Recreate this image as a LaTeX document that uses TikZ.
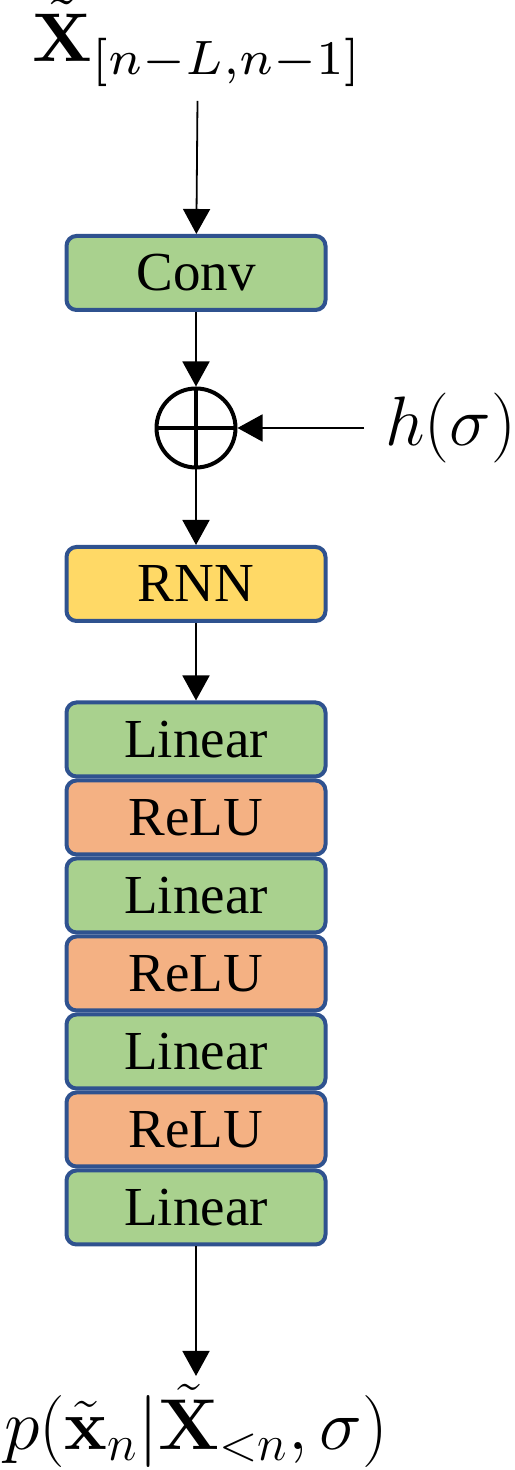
\RequirePackage{fix-cm}
\documentclass[tikz,border=0pt]{standalone}
\usepackage[no-math]{fontspec}
\setmainfont{Liberation Serif}
\usetikzlibrary{positioning,arrows.meta}
\definecolor{boxgreen}{HTML}{A9D18E}
\definecolor{boxorange}{HTML}{F4B183}
\definecolor{boxyellow}{HTML}{FFD966}
\definecolor{boxedge}{HTML}{2F528F}
\tikzset{
  layer/.style={draw=boxedge,line width=2pt,rounded corners=5pt,
    minimum width=129.5pt,minimum height=37pt,inner sep=0pt,
    font=\fontsize{27.5}{30}\selectfont},
  lin/.style={layer,fill=boxgreen},
  act/.style={layer,fill=boxorange},
  rec/.style={layer,fill=boxyellow},
  sumnode/.style={draw,circle,line width=2pt,minimum size=39.5pt,inner sep=0pt,
    path picture={\draw[line width=2pt] (path picture bounding box.north) -- (path picture bounding box.south)
      (path picture bounding box.west) -- (path picture bounding box.east);}},
  io/.style={inner sep=4pt,font=\fontsize{35}{40}\selectfont},
  arr/.style={line width=0.9pt,-{Triangle[length=12.5pt,width=13.5pt]}}
}
\begin{document}
\begin{tikzpicture}[x=0.5pt,y=0.5pt,node distance=0pt]
  \useasboundingbox (0,0) rectangle (514,1470);
  \node[io,anchor=base,font=\normalsize,inner sep=7pt] (xin) at (198,1408) {\scalebox{3.45}{$\tilde{\mathbf{X}}_{[n-L,n-1]}$}};
  \node[lin] (conv) at (196,1197) {Conv};
  \node[sumnode] (add) at (196,1042) {};
  \node[io,anchor=west,inner sep=10.5pt] (hsig) at (364,1042) {$h(\sigma)$};
  \node[rec] (rnn) at (196,886) {RNN};
  \node[lin] (lin1) at (196,730.5) {Linear};
  \node[act,below=of lin1] (relu1) {ReLU};
  \node[lin,below=of relu1] (lin2) {Linear};
  \node[act,below=of lin2] (relu2) {ReLU};
  \node[lin,below=of relu2] (lin3) {Linear};
  \node[act,below=of lin3] (relu3) {ReLU};
  \node[lin,below=of relu3] (lin4) {Linear};
  \node[io,anchor=base,font=\fontsize{36}{40}\selectfont] (pout) at (196,20) {$p(\tilde{\mathbf{x}}_n|\tilde{\mathbf{X}}_{<n},\sigma)$};
  \draw[arr] (xin) -- (conv);
  \draw[arr] (conv) -- (add);
  \draw[arr] (hsig.west) -- (add.east);
  \draw[arr] (add) -- (rnn);
  \draw[arr] (rnn) -- (lin1);
  \draw[arr] (lin4) -- (pout);
\end{tikzpicture}
\end{document}
